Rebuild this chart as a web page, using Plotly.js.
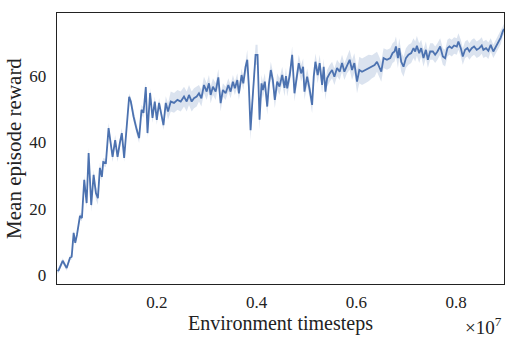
<!DOCTYPE html>
<html>
<head>
<meta charset="utf-8">
<script src="https://cdn.plot.ly/plotly-3.0.1.min.js"></script>
<style>
  html, body { margin: 0; padding: 0; background: #fff; }
  #chart { width: 516px; height: 342px; }
</style>
</head>
<body>
<div id="chart"></div>
<script>
// timesteps
var steps = [
  10000, 34000, 114000, 194000, 260000, 294000, 334000, 366000, 400000, 426000,
  460000, 500000, 546000, 594000, 634000, 686000, 734000, 780000, 820000, 860000,
  900000, 926000, 980000, 1034000, 1080000, 1114000, 1166000, 1214000, 1260000, 1300000,
  1346000, 1400000, 1446000, 1480000, 1534000, 1600000, 1646000, 1694000, 1734000, 1780000,
  1814000, 1866000, 1914000, 1960000, 2000000, 2046000, 2094000, 2134000, 2180000, 2226000,
  2280000, 2346000, 2414000, 2480000, 2546000, 2600000, 2646000, 2700000, 2746000, 2800000,
  2846000, 2894000, 2946000, 3000000, 3046000, 3080000, 3126000, 3180000, 3234000, 3280000,
  3326000, 3380000, 3434000, 3480000, 3526000, 3566000, 3614000, 3646000, 3700000, 3734000,
  3780000, 3814000, 3846000, 3880000, 3914000, 3946000, 3980000, 4020000, 4060000, 4100000,
  4126000, 4166000, 4214000, 4246000, 4286000, 4326000, 4366000, 4414000, 4460000, 4514000,
  4560000, 4590000, 4614000, 4666000, 4714000, 4760000, 4814000, 4846000, 4894000, 4934000,
  4960000, 5014000, 5066000, 5114000, 5146000, 5180000, 5226000, 5266000, 5314000, 5346000,
  5380000, 5414000, 5466000, 5514000, 5560000, 5614000, 5666000, 5714000, 5760000, 5814000,
  5866000, 5914000, 5960000, 6014000, 6060000, 6114000, 6180000, 6246000, 6314000, 6366000,
  6414000, 6460000, 6500000, 6546000, 6614000, 6680000, 6726000, 6766000, 6794000, 6834000,
  6860000, 6900000, 6946000, 6994000, 7046000, 7100000, 7146000, 7180000, 7214000, 7260000,
  7300000, 7346000, 7394000, 7434000, 7480000, 7534000, 7580000, 7626000, 7680000, 7734000,
  7780000, 7826000, 7866000, 7914000, 7960000, 8014000, 8046000, 8094000, 8134000, 8180000,
  8226000, 8266000, 8314000, 8360000, 8414000, 8466000, 8514000, 8546000, 8600000, 8646000,
  8694000, 8746000, 8800000, 8846000, 8894000, 8934000, 8960000
]

// mean episode reward
var reward = [
  1.2, 1.5, 4.3, 2.1, 5.2, 5.5, 12.7, 9.7, 12.1, 15.1,
  17.8, 17.2, 28.7, 21.7, 36.8, 21.1, 30.2, 24.7, 23.2, 32.3,
  29.6, 34.1, 33.8, 44.3, 38.6, 35.6, 40.7, 35.6, 39.8, 42.8,
  35.3, 44.6, 53.7, 52.3, 47.8, 43.7, 41.3, 49.8, 48.9, 56.7,
  42.8, 54.9, 47.4, 52.3, 46.8, 51.9, 47.8, 45.2, 51.9, 49.3,
  52.3, 51.9, 52.8, 52.3, 53.8, 52.3, 54.3, 52.3, 53.3, 53.8,
  54.8, 53.3, 57.3, 55.3, 57.8, 54.3, 56.8, 55.3, 59.6, 51.8,
  55.8, 54.8, 57.3, 55.3, 58.3, 56.3, 58.8, 54.8, 60.3, 57.8,
  62.8, 64.9, 56.8, 43.7, 51.8, 59.3, 66.4, 66.4, 46.8, 57.8,
  55.8, 58.3, 50.8, 57.3, 61.8, 58.8, 52.8, 58.3, 56.8, 60.3,
  56.4, 60.0, 56.3, 60.3, 66.4, 54.8, 59.8, 63.9, 60.8, 62.8,
  55.3, 59.8, 55.8, 51.3, 59.8, 64.3, 60.3, 63.9, 57.3, 62.8,
  55.3, 59.3, 60.8, 61.8, 59.8, 62.4, 61.3, 63.9, 61.3, 63.3,
  64.9, 61.8, 63.9, 58.3, 61.8, 61.3, 61.8, 62.4, 62.8, 63.3,
  64.3, 62.8, 61.3, 65.4, 64.9, 65.4, 66.9, 67.4, 68.9, 65.4,
  68.4, 64.3, 62.8, 65.4, 66.4, 66.9, 68.4, 67.4, 69.1, 66.9,
  68.4, 65.4, 67.9, 64.9, 67.4, 67.4, 66.4, 67.4, 68.9, 65.9,
  65.4, 68.4, 68.9, 68.4, 69.2, 68.9, 70.4, 68.4, 65.9, 67.9,
  68.4, 67.4, 68.4, 68.9, 67.9, 68.4, 69.2, 67.9, 68.4, 67.6,
  69.4, 67.4, 68.9, 70.4, 71.6, 73.4, 74.2
]

// half width of the shaded band
var spread = [
  0.8, 0.8, 0.8, 0.8, 0.8, 0.8, 0.8, 0.8, 0.8, 0.8,
  1.0, 1.0, 1.2, 1.5, 1.5, 2.0, 1.5, 2.0, 2.0, 1.5,
  1.2, 1.2, 1.2, 1.5, 1.5, 1.5, 1.5, 1.5, 1.5, 1.5,
  1.2, 1.2, 1.0, 1.2, 1.5, 1.5, 1.5, 1.5, 1.5, 1.2,
  1.5, 1.5, 1.5, 1.5, 1.5, 1.5, 1.5, 1.5, 2.0, 2.5,
  3.0, 3.0, 3.0, 3.0, 3.0, 3.0, 3.0, 3.0, 3.0, 3.0,
  2.5, 2.5, 2.5, 2.5, 2.5, 2.5, 2.5, 2.5, 2.5, 2.5,
  2.0, 2.0, 2.0, 2.0, 2.0, 2.0, 2.0, 2.0, 2.0, 2.0,
  2.5, 3.0, 2.5, 3.0, 2.5, 2.5, 3.0, 3.0, 3.0, 2.5,
  2.5, 2.5, 2.5, 2.5, 2.5, 2.5, 2.5, 2.5, 2.5, 2.5,
  2.5, 2.5, 2.5, 2.5, 2.5, 2.5, 2.5, 2.5, 2.5, 2.5,
  2.5, 2.5, 2.5, 2.5, 2.5, 2.5, 2.5, 2.5, 2.5, 2.5,
  2.5, 2.5, 2.5, 2.5, 2.5, 2.5, 2.5, 2.5, 2.5, 2.5,
  3.0, 3.0, 3.0, 3.5, 4.0, 4.0, 4.0, 4.0, 3.5, 3.5,
  3.0, 3.0, 3.0, 3.0, 3.0, 3.0, 3.0, 3.0, 3.0, 3.0,
  3.0, 3.0, 3.0, 3.0, 3.0, 3.0, 3.0, 3.0, 3.0, 3.0,
  2.5, 2.5, 2.5, 2.5, 2.5, 2.5, 2.5, 2.5, 2.5, 2.5,
  2.5, 2.5, 2.5, 2.5, 2.5, 2.5, 2.5, 2.5, 2.5, 2.5,
  2.5, 2.5, 2.5, 2.5, 2.5, 2.5, 2.5, 2.5, 2.5, 2.5,
  2.0, 2.0, 2.0, 2.0, 2.0, 1.5, 1.5
]

var tick_vals = [2000000, 4000000, 6000000, 8000000]
var tick_text = ['0.2', '0.4', '0.6', '0.8']

var blue = '#4c72b0'
var serif = 'Liberation Serif, serif'

var lower = {
  x: steps,
  y: reward.map((v, i) => v - spread[i]),
  mode: 'lines',
  line: {width: 0, color: blue},
  hoverinfo: 'skip',
  showlegend: false,
}

var upper = {
  x: steps,
  y: reward.map((v, i) => v + spread[i]),
  mode: 'lines',
  fill: 'tonexty',
  fillcolor: 'rgba(76,114,176,0.2)',
  line: {width: 0, color: blue},
  hoverinfo: 'skip',
  showlegend: false,
}

var mean = {
  x: steps,
  y: reward,
  mode: 'lines',
  line: {color: blue, width: 1.8},
  showlegend: false,
}

var layout = {
  width: 516,
  height: 342,
  margin: {l: 57, r: 12, t: 13, b: 58},
  paper_bgcolor: '#fff',
  plot_bgcolor: '#fff',
  font: {family: serif, color: '#222', size: 17},
  xaxis: {
    range: [0, 8960000],
    tickvals: tick_vals,
    ticktext: tick_text,
    ticks: '',
    showgrid: false,
    zeroline: false,
    showline: true,
    mirror: true,
    linecolor: '#222',
    linewidth: 1.3,
    ticklabelstandoff: 2,
    title: {text: 'Environment timesteps', font: {size: 20}, standoff: 2},
  },
  yaxis: {
    range: [-2.7, 79],
    tickvals: [0, 20, 40, 60],
    ticks: '',
    showgrid: false,
    zeroline: false,
    showline: true,
    mirror: true,
    linecolor: '#222',
    linewidth: 1.3,
    ticklabelstandoff: 6,
    title: {text: 'Mean episode reward', font: {size: 21}, standoff: 2},
  },
  annotations: [
    {
      text: '×10<sup>7</sup>',
      xref: 'paper', yref: 'paper',
      x: 1.0, y: -0.155,
      xanchor: 'right', yanchor: 'middle',
      showarrow: false,
      font: {size: 19},
    },
  ],
}

Plotly.newPlot('chart', [lower, upper, mean], layout, {displayModeBar: false, staticPlot: true})
</script>
</body>
</html>
